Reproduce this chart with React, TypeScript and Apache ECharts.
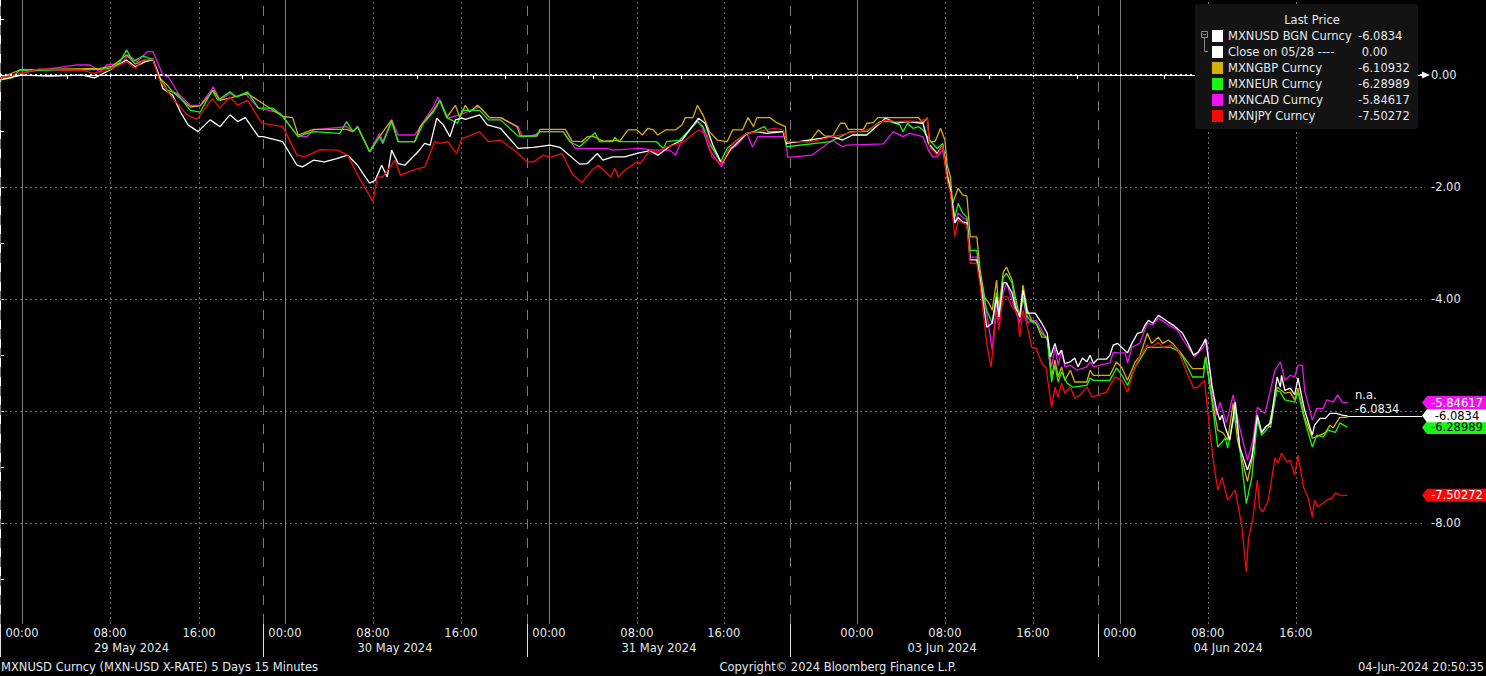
import { useEffect, useRef } from 'react';
import * as echarts from 'echarts';

// ---------- axis ranges (hours on a compressed trading-time scale) ----------
const X_MAX = 129.27;
const Y_MIN = -9.8;
const Y_MAX = 1.34;

// ---------- legend / names ----------
const seriesNames = ['MXNUSD BGN Curncy', 'Close on 05/28 ----', 'MXNGBP Curncy', 'MXNEUR Curncy', 'MXNCAD Curncy', 'MXNJPY Curncy'];
const lastValueText = ['-6.0834', ' 0.00', '-6.10932', '-6.28989', '-5.84617', '-7.50272'];
const seriesColors = ['#ffffff', '#ffffff', '#d4b00c', '#16f516', '#f010f0', '#f50a0a'];

// ---------- x axis ticks & labels ----------
const timeLabelPos = [2.0, 10.0, 18.1, 25.9, 33.9, 41.9, 49.9, 57.9, 65.8, 77.9, 85.9, 93.9, 101.8, 109.8, 117.8];
const timeLabelText = ['00:00', '08:00', '16:00', '00:00', '08:00', '16:00', '00:00', '08:00', '16:00', '00:00', '08:00', '16:00', '00:00', '08:00', '16:00'];
const dateLabelPos = [8.55, 32.5, 56.5, 82.5, 108.5];
const dateLabelText = ['29 May 2024', '30 May 2024', '31 May 2024', '03 Jun 2024', '04 Jun 2024'];
const daySeparators = [0, 23.9, 47.9, 71.8, 99.8];
const midnightLines = [2.0, 25.9, 49.9, 77.9, 101.8];
const hourLines = [10.0, 18.1, 33.9, 41.9, 57.9, 65.8, 85.9, 93.9, 109.8, 117.8];
const timeTicks = [2.0, 6.1, 10.0, 14.1, 18.1, 22.0, 25.9, 29.9, 33.9, 37.9, 41.9, 45.9, 49.9, 53.9, 57.9, 61.9, 65.8, 69.8, 73.8, 77.9, 81.9, 85.9, 89.9, 93.9, 97.9, 101.8, 105.8, 109.8, 113.8, 117.8, 121.8];

// ---------- y axis ----------
const yLabelValues = [0, -2, -4, -8];
const yTickValues = [1, 0, -1, -2, -3, -4, -5, -6, -7, -8, -9];
const yGridValues = [-2, -4, -6, -8];

// ---------- series data: [hour, % change] ----------
const mxnusd: [number, number][] = [
  [0, -0.08], [2.0, 0.0], [4.5, -0.02], [7.5, 0.0], [8.6, -0.05], [10.0, 0.09], [11.5, 0.27], [12.3, 0.15], [13.2, 0.24], [13.9, 0.27], [14.4, 0.03], [14.8, -0.24], [15.7, -0.36], [16.4, -0.66], [17.1, -0.89], [18.0, -1.01], [19.1, -0.80], [20.0, -0.92], [20.9, -0.71], [21.6, -0.83], [22.3, -0.76], [23.5, -1.10], [23.9, -1.10], [25.7, -1.19], [27.0, -1.61], [27.5, -1.64], [28.5, -1.52], [29.5, -1.55], [30.6, -1.49], [31.6, -1.43], [32.5, -1.61], [33.0, -1.76], [33.6, -1.93], [34.1, -1.88], [34.7, -1.61], [35.2, -1.82], [35.6, -1.34], [36.2, -1.58], [36.8, -1.61], [38.0, -1.37], [38.6, -1.22], [39.1, -1.25], [39.7, -0.77], [40.3, -0.89], [40.9, -1.10], [41.4, -0.80], [42.0, -0.77], [42.3, -0.79], [43.6, -0.71], [44.3, -0.89], [45.5, -0.95],
  [47.1, -1.31], [48.5, -1.29], [50.0, -1.25], [50.9, -1.29], [52.7, -1.59], [53.4, -1.58], [54.3, -1.40], [54.8, -1.52], [55.7, -1.46], [56.8, -1.46], [57.9, -1.40], [59.1, -1.35], [59.8, -1.43], [60.9, -1.27], [62.0, -1.16], [63.5, -0.77], [64.1, -0.86], [64.8, -1.25], [65.6, -1.58], [66.4, -1.33], [67.9, -1.04], [68.8, -1.01], [69.7, -1.04], [71.2, -1.01], [71.5, -1.22], [75.7, -1.10], [76.6, -1.16], [77.5, -1.07], [78.8, -1.07], [80.5, -0.77], [81.5, -0.86], [82.5, -0.83], [83.9, -0.86], [84.4, -1.22], [85.2, -1.40], [85.7, -1.25],
  [86.1, -1.79], [86.4, -2.05], [86.8, -2.64], [87.1, -2.54], [87.5, -2.62], [87.9, -2.64], [88.2, -3.30], [88.8, -3.30], [89.1, -3.66], [89.7, -4.50], [90.2, -4.43], [90.6, -3.96], [90.8, -4.32], [91.2, -3.71], [91.5, -3.71], [92.0, -3.89], [92.3, -4.14], [92.7, -4.32], [93.0, -3.84], [93.4, -4.25], [94.1, -4.25], [94.7, -4.43], [95.2, -4.61], [95.5, -5.03], [95.9, -4.79], [96.2, -5.0], [96.5, -4.91], [96.8, -5.15], [97.3, -5.12], [97.7, -5.05], [98.0, -5.21], [98.4, -5.05], [98.8, -5.12], [99.1, -5.0], [99.4, -5.15], [99.8, -5.07], [100.6, -5.07], [100.9, -5.0], [101.2, -4.82], [101.6, -4.79], [102.0, -4.87], [102.5, -4.96], [102.9, -4.79], [103.4, -4.61], [103.8, -4.59], [104.1, -4.46], [104.4, -4.38], [104.8, -4.43], [105.3, -4.29], [105.7, -4.34], [106.2, -4.41], [106.6, -4.46], [107.0, -4.52], [107.5, -4.61], [108.0, -4.79], [108.5, -5.0], [108.9, -4.95], [109.4, -4.79], [109.6, -4.71],
  [110.2, -5.57], [110.6, -5.98], [110.9, -6.16], [111.1, -6.07], [111.4, -6.30], [111.8, -6.52], [112.3, -5.84], [112.7, -6.64], [113.4, -7.05], [113.8, -6.82], [114.3, -6.07], [114.7, -6.38], [115.0, -6.29], [115.5, -6.21], [116.1, -5.39], [116.4, -5.57], [116.5, -5.36], [116.8, -5.63], [117.3, -5.59], [117.7, -5.71], [118.0, -5.41], [118.4, -5.80], [118.6, -5.98], [119.3, -6.43], [119.5, -6.25], [120.0, -6.13], [120.5, -6.13], [120.9, -6.04], [121.5, -6.04], [122.0, -6.07], [122.5, -6.0834],
];

const closeLine: [number, number][] = [[0, 0], [X_MAX, 0]];

const mxngbp: [number, number][] = [
  [0, -0.05], [1.8, 0.09], [9.1, 0.12], [10.2, 0.16], [11.5, 0.36], [12.3, 0.20], [13.2, 0.27], [13.9, 0.29], [14.5, -0.05], [15.2, -0.18], [15.7, -0.30], [17.3, -0.57], [18.2, -0.55], [19.4, -0.27], [20.0, -0.45], [22.5, -0.33], [25.7, -0.74], [26.6, -0.76], [27.1, -1.07], [28.5, -0.97], [31.5, -0.97], [32.1, -1.01], [32.5, -0.92], [33.6, -1.37], [34.5, -1.10], [35.6, -0.80], [36.2, -1.19], [37.7, -1.19], [38.2, -0.92], [39.4, -0.63], [40.0, -0.45], [40.6, -0.76], [41.4, -0.54], [41.8, -0.76], [42.3, -0.54], [42.7, -0.66], [43.4, -0.54], [43.9, -0.63], [44.5, -0.76], [45.5, -0.76],
  [47.0, -0.92], [47.3, -1.09], [48.8, -1.09], [49.1, -0.97], [51.4, -0.97], [52.0, -1.18], [52.9, -1.19], [53.4, -1.10], [53.9, -1.09], [54.8, -1.18], [56.4, -1.16], [57.1, -0.98], [57.9, -0.98], [58.4, -1.07], [58.9, -0.95], [59.4, -0.98], [59.8, -1.07], [60.5, -0.98], [61.4, -0.98], [62.0, -0.89], [62.3, -0.76], [63.0, -0.76], [63.4, -0.54], [63.9, -0.71], [64.5, -1.01], [65.2, -1.16], [66.1, -1.19], [66.6, -0.98], [67.5, -0.98], [68.0, -0.76], [68.5, -0.92], [68.8, -0.76], [70.0, -0.76], [70.6, -0.85], [71.4, -0.92], [71.5, -1.19], [73.6, -1.19], [74.4, -0.98], [75.0, -1.09], [75.7, -1.09], [76.4, -0.86], [76.8, -0.86], [77.1, -0.97], [78.5, -0.97], [78.8, -0.86], [79.4, -0.85], [79.8, -0.76], [83.5, -0.76], [83.9, -0.86], [84.3, -0.76], [84.5, -1.19], [85.0, -1.19], [85.5, -0.95], [85.9, -1.16],
  [86.1, -1.61], [86.4, -1.82], [86.6, -2.29], [87.1, -2.02], [87.5, -2.14], [87.9, -2.16], [88.2, -2.89], [88.8, -2.89], [89.1, -3.48], [89.5, -3.96], [89.9, -4.07], [90.2, -4.20], [90.6, -3.66], [90.8, -4.20], [91.2, -3.52], [91.5, -3.43], [92.0, -3.66], [92.3, -3.96], [92.7, -4.32], [93.0, -3.75], [93.4, -4.20], [93.8, -4.38], [94.2, -4.43], [94.7, -4.68], [95.2, -4.68], [95.6, -5.39], [95.9, -5.09], [96.2, -5.39], [96.5, -5.21], [96.8, -5.45], [97.3, -5.27], [97.7, -5.48], [98.8, -5.48], [99.1, -5.27], [99.4, -5.36], [100.9, -5.36], [101.5, -5.12], [102.0, -5.23], [102.5, -5.45], [103.2, -5.12], [103.6, -5.03], [104.3, -4.61], [104.7, -4.79], [105.3, -4.68], [105.7, -4.79], [106.2, -4.73], [106.6, -4.79], [107.3, -4.95], [108.4, -5.24], [109.4, -5.24], [109.6, -5.03],
  [110.2, -5.80], [110.7, -6.34], [111.2, -6.39], [111.6, -6.52], [112.1, -5.86], [112.5, -6.52], [113.4, -7.26], [113.8, -6.88], [114.3, -6.13], [114.7, -6.39], [115.2, -6.25], [115.5, -6.29], [116.1, -5.57], [116.8, -5.68], [117.3, -5.66], [117.7, -5.80], [118.0, -5.59], [118.6, -6.11], [119.3, -6.48], [119.7, -6.46], [120.5, -6.38], [120.9, -6.25], [121.2, -6.30], [121.5, -6.20], [121.8, -6.11], [122.5, -6.10932],
];

const mxneur: [number, number][] = [
  [0, -0.09], [1.1, -0.05], [1.8, 0.09], [5.5, 0.09], [9.1, 0.10], [10.2, 0.13], [10.9, 0.23], [11.5, 0.45], [12.1, 0.24], [13.0, 0.34], [13.9, 0.28], [14.5, -0.03], [15.2, -0.27], [16.1, -0.33], [17.3, -0.63], [18.2, -0.66], [19.3, -0.27], [19.8, -0.45], [20.9, -0.30], [21.5, -0.39], [22.5, -0.30], [23.5, -0.59], [24.8, -0.59], [25.7, -0.74], [27.1, -1.10], [27.9, -1.04], [28.6, -1.01], [30.9, -1.04], [31.5, -0.83], [32.1, -1.01], [32.5, -0.92], [33.6, -1.37], [34.5, -1.10], [34.8, -1.22], [35.6, -0.83], [36.2, -1.19], [37.7, -1.19], [38.5, -0.86], [39.4, -0.66], [40.0, -0.45], [40.7, -0.77], [41.6, -0.86], [42.0, -0.63], [43.6, -0.63], [44.4, -0.80], [45.5, -0.80],
  [47.1, -1.09], [48.6, -1.09], [49.1, -1.01], [51.2, -1.01], [51.8, -1.19], [52.7, -1.28], [54.1, -1.03], [54.5, -1.19], [55.7, -1.19], [55.9, -1.11], [56.2, -1.19], [59.7, -1.19], [60.3, -1.31], [60.6, -1.19], [61.8, -1.16], [63.4, -0.83], [63.9, -0.92], [64.5, -1.22], [65.5, -1.55], [66.1, -1.31], [67.0, -1.16], [67.9, -1.04], [68.5, -1.01], [69.5, -0.92], [69.8, -1.01], [71.2, -1.01], [71.5, -1.28], [75.5, -1.19], [77.3, -1.01], [78.8, -1.01], [80.0, -0.83], [80.9, -0.83], [81.8, -0.89], [82.1, -1.01], [82.5, -0.86], [83.0, -0.95], [83.5, -0.92], [83.9, -0.98], [84.5, -1.16], [85.2, -1.31], [85.7, -1.22],
  [86.1, -1.75], [86.4, -2.0], [86.8, -2.54], [87.1, -2.29], [87.5, -2.46], [87.9, -2.54], [88.2, -3.13], [88.8, -3.13], [89.1, -3.61], [89.7, -4.20], [90.2, -4.43], [90.6, -3.88], [90.8, -4.25], [91.2, -3.61], [91.5, -3.54], [92.0, -3.71], [92.3, -4.07], [92.7, -4.32], [93.0, -3.96], [93.4, -4.32], [93.8, -4.41], [94.2, -4.43], [94.7, -4.61], [95.2, -4.70], [95.6, -5.48], [95.9, -5.18], [96.2, -5.48], [96.5, -5.30], [97.0, -5.50], [97.5, -5.57], [98.8, -5.54], [99.1, -5.41], [99.4, -5.45], [100.9, -5.45], [101.5, -5.23], [102.0, -5.36], [102.5, -5.54], [103.2, -5.21], [103.6, -5.09], [104.3, -4.86], [106.4, -4.86], [107.0, -4.91], [107.5, -5.03], [108.4, -5.39], [109.4, -5.39], [109.6, -5.03],
  [110.2, -5.86], [110.7, -6.64], [111.4, -6.48], [111.6, -6.66], [112.3, -5.98], [112.7, -6.64], [113.3, -7.65], [113.8, -7.18], [114.3, -6.16], [114.7, -6.43], [115.3, -6.29], [116.1, -5.63], [116.4, -5.66], [116.8, -5.80], [117.7, -5.84], [118.0, -5.66], [118.6, -6.16], [119.3, -6.64], [119.7, -6.43], [120.3, -6.46], [120.7, -6.34], [121.4, -6.38], [121.8, -6.21], [122.5, -6.28989],
];

const mxncad: [number, number][] = [
  [0, -0.06], [2.7, 0.06], [7.0, 0.18], [8.2, 0.18], [9.1, 0.06], [9.7, 0.18], [11.1, 0.21], [11.6, 0.36], [12.5, 0.24], [13.4, 0.42], [13.9, 0.42], [14.8, 0.0], [15.3, -0.03], [16.2, -0.33], [17.3, -0.54], [18.2, -0.54], [19.4, -0.21], [20.0, -0.45], [20.9, -0.33], [21.5, -0.39], [22.3, -0.33], [23.5, -0.59], [25.5, -0.68], [27.1, -1.10], [27.9, -1.10], [28.5, -0.98], [31.5, -0.92], [32.1, -1.01], [32.5, -0.92], [33.6, -1.37], [34.5, -1.04], [34.8, -1.19], [35.6, -0.80], [36.2, -1.07], [37.7, -1.07], [38.5, -0.83], [39.4, -0.57], [39.8, -0.39], [40.7, -0.77], [41.8, -0.71], [43.6, -0.57], [44.5, -0.76], [45.5, -0.76],
  [47.1, -0.92], [47.5, -1.11], [48.6, -1.07], [49.1, -1.01], [51.2, -1.01], [52.3, -1.31], [55.2, -1.31], [55.7, -1.34], [58.2, -1.31], [59.4, -1.34], [60.9, -1.34], [61.4, -1.43], [62.0, -1.16], [63.4, -0.80], [63.8, -0.92], [64.5, -1.34], [65.6, -1.64], [66.2, -1.34], [67.0, -1.25], [67.9, -1.04], [68.4, -1.29], [68.9, -1.10], [71.4, -1.10], [71.6, -1.47], [73.8, -1.43], [75.7, -1.16], [76.1, -1.22], [76.6, -1.28], [77.0, -1.25], [80.3, -1.23], [81.2, -1.01], [82.1, -1.10], [82.7, -1.04], [83.9, -1.10], [84.4, -1.34], [84.8, -1.46], [85.2, -1.46], [85.7, -1.34],
  [86.1, -1.82], [86.4, -2.05], [86.8, -2.64], [87.1, -2.46], [87.5, -2.54], [87.9, -2.59], [88.2, -3.25], [88.8, -3.25], [89.1, -3.66], [89.7, -4.25], [90.2, -4.91], [90.6, -4.02], [90.8, -4.38], [91.2, -3.88], [91.5, -3.71], [92.0, -4.02], [92.3, -4.20], [92.7, -4.43], [93.0, -3.96], [93.4, -4.43], [93.8, -4.38], [94.2, -4.38], [94.7, -4.55], [95.2, -4.73], [95.6, -5.21], [95.9, -4.86], [96.2, -5.18], [96.5, -4.91], [96.8, -5.21], [97.3, -5.18], [97.9, -5.27], [98.8, -5.21], [99.1, -5.12], [99.4, -5.21], [100.0, -5.18], [100.9, -5.14], [101.2, -4.95], [101.6, -4.96], [102.3, -4.96], [102.5, -5.14], [102.9, -4.86], [103.6, -4.79], [104.3, -4.43], [104.8, -4.46], [105.3, -4.34], [106.2, -4.46], [107.0, -4.55], [107.7, -4.77], [108.6, -5.03], [109.4, -4.86], [109.7, -4.73],
  [110.2, -5.68], [110.6, -6.07], [110.9, -5.84], [111.5, -6.21], [112.1, -5.71], [112.6, -6.21], [113.4, -6.88], [113.9, -6.52], [114.3, -5.93], [115.0, -6.04], [115.9, -5.27], [116.4, -5.12], [116.8, -5.45], [117.3, -5.36], [117.7, -5.39], [118.0, -5.18], [118.4, -5.18], [118.6, -5.63], [119.3, -6.16], [119.7, -5.95], [120.3, -5.95], [120.6, -5.80], [121.2, -5.84], [121.6, -5.71], [122.0, -5.84], [122.5, -5.84617],
];

const mxnjpy: [number, number][] = [
  [0, -0.06], [1.8, 0.03], [3.6, 0.11], [5.5, 0.09], [7.5, 0.09], [8.5, 0.03], [10.0, 0.10], [11.5, 0.24], [12.3, 0.12], [13.0, 0.27], [13.9, 0.28], [14.5, -0.09], [15.6, -0.39], [17.0, -0.71], [17.9, -0.79], [19.3, -0.42], [20.0, -0.59], [20.9, -0.39], [21.6, -0.54], [22.5, -0.45], [23.8, -0.86], [25.7, -0.92], [27.0, -1.43], [27.7, -1.46], [29.1, -1.33], [30.7, -1.34], [31.6, -1.43], [32.7, -1.85], [33.9, -2.26], [34.3, -1.82], [34.8, -1.82], [35.9, -1.52], [36.4, -1.79], [37.5, -1.70], [38.6, -1.64], [39.1, -1.40], [39.5, -1.19], [40.0, -1.22], [40.7, -1.19], [41.5, -1.40], [42.0, -1.13], [42.5, -1.10], [43.6, -1.01], [44.4, -1.19], [45.5, -1.16],
  [47.1, -1.40], [47.9, -1.55], [48.5, -1.55], [49.4, -1.43], [50.0, -1.47], [51.1, -1.40], [52.0, -1.76], [52.9, -1.92], [53.8, -1.70], [54.4, -1.61], [55.5, -1.82], [55.9, -1.67], [56.2, -1.82], [56.8, -1.70], [57.9, -1.55], [58.2, -1.58], [59.1, -1.34], [59.7, -1.39], [60.6, -1.28], [62.0, -1.21], [63.5, -0.98], [64.3, -1.07], [64.7, -1.46], [65.6, -1.58], [66.6, -1.22], [67.9, -1.04], [68.8, -1.01], [70.3, -0.95], [71.2, -0.98], [71.5, -1.19], [73.8, -1.19], [75.7, -1.10], [77.0, -1.04], [78.8, -0.98], [80.5, -0.80], [81.4, -0.83], [82.5, -0.82], [83.6, -0.83], [84.3, -0.77], [84.5, -1.28], [85.2, -1.43], [85.7, -1.25],
  [86.1, -1.88], [86.4, -2.11], [86.8, -2.89], [87.1, -2.59], [87.5, -2.64], [87.9, -2.68], [88.2, -3.36], [88.8, -3.36], [89.1, -3.75], [89.7, -4.79], [90.1, -5.21], [90.6, -4.20], [90.8, -4.55], [91.2, -3.96], [91.6, -3.96], [92.0, -4.14], [92.5, -4.25], [92.7, -4.68], [93.0, -4.20], [93.4, -4.50], [93.8, -4.86], [94.2, -4.88], [94.7, -5.14], [95.1, -5.23], [95.5, -5.80], [95.6, -5.93], [95.9, -5.57], [96.2, -5.75], [96.5, -5.50], [96.8, -5.68], [97.3, -5.57], [97.7, -5.77], [98.2, -5.71], [98.8, -5.57], [99.3, -5.75], [99.8, -5.71], [100.6, -5.66], [100.9, -5.54], [101.4, -5.39], [102.0, -5.45], [102.5, -5.66], [103.0, -5.32], [103.6, -5.03], [104.3, -4.82], [104.7, -4.86], [105.3, -4.77], [105.7, -4.86], [106.5, -4.82], [107.1, -4.91], [107.5, -5.12], [108.0, -5.36], [108.5, -5.59], [108.9, -5.57], [109.5, -5.45],
  [110.0, -6.39], [110.3, -6.88], [110.7, -7.41], [111.1, -7.18], [111.6, -7.59], [112.3, -7.41], [112.9, -8.07], [113.3, -8.87], [113.5, -8.27], [113.9, -7.91], [114.3, -7.23], [114.5, -7.73], [114.8, -7.80], [115.3, -7.59], [115.9, -6.84], [116.2, -6.93], [116.5, -6.75], [117.0, -6.91], [117.3, -6.88], [117.7, -7.14], [118.0, -6.79], [118.5, -7.36], [118.9, -7.54], [119.3, -7.89], [119.5, -7.59], [119.8, -7.71], [120.3, -7.64], [120.6, -7.59], [121.1, -7.55], [121.4, -7.46], [121.8, -7.50], [122.5, -7.50272],
];

const FONT = 'DejaVu Sans';
const FS = 11.5;
const TXT = '#e2e8f0';
const TAG_PATH = 'path://M0,7 L5,0 L64,0 L64,14 L5,14 Z';

function lastOf(d: [number, number][]) {
  return d[d.length - 1];
}

function tag(d: [number, number][], fill: string, text: string, textColor: string) {
  const last = lastOf(d);
  return {
    coord: [X_MAX, last[1]],
    symbol: TAG_PATH,
    symbolSize: [64, 13],
    symbolKeepAspect: false,
    symbolOffset: [32, 0],
    itemStyle: { color: fill },
    label: {
      show: true,
      position: 'inside',
      formatter: text,
      color: textColor,
      fontFamily: FONT,
      fontSize: FS,
      offset: [3, 0],
    },
  };
}

function nearestLabel(pos: number[], texts: string[], v: number) {
  let best = 0;
  for (let i = 1; i < pos.length; i++) {
    if (Math.abs(pos[i] - v) < Math.abs(pos[best] - v)) best = i;
  }
  return texts[best];
}

export default function App() {
  const ref = useRef<HTMLDivElement>(null);

  useEffect(() => {
    if (!ref.current) return;
    const chart = echarts.init(ref.current, null, { renderer: 'svg' });

    const gridLineData: any[] = [
      ...yGridValues.map((v) => ({ yAxis: v, lineStyle: { color: '#6e6e6e', type: [2, 3], width: 1 } })),
      ...midnightLines.map((x) => ({ xAxis: x, lineStyle: { color: '#7a7a7a', type: 'solid', width: 1 } })),
      ...hourLines.map((x) => ({ xAxis: x, lineStyle: { color: '#6e6e6e', type: [2, 3], width: 1 } })),
      ...daySeparators.map((x) => ({ xAxis: x, lineStyle: { color: '#7a7a7a', type: [10, 9], width: 1 } })),
    ];

    const lineSeries = (name: string, data: [number, number][], color: string, z: number, extra: any = {}) => ({
      type: 'line',
      name,
      data,
      xAxisIndex: 0,
      yAxisIndex: 0,
      showSymbol: false,
      symbol: 'none',
      clip: false,
      z,
      lineStyle: { color, width: 1.3 },
      itemStyle: { color },
      silent: true,
      ...extra,
    });

    const legendRows: any[] = [];
    seriesNames.forEach((n, i) => {
      const y = 36 + i * 16;
      legendRows.push({ type: 'rect', shape: { x: 1212, y: y - 6, width: 11, height: 12 }, style: { fill: seriesColors[i] }, z: 101 });
      legendRows.push({ type: 'text', x: 1228, y, style: { text: n, fill: TXT, font: `${FS}px "${FONT}"`, align: 'left', verticalAlign: 'middle' }, z: 101 });
      legendRows.push({ type: 'text', x: 1358, y, style: { text: lastValueText[i], fill: TXT, font: `${FS}px "${FONT}"`, align: 'left', verticalAlign: 'middle' }, z: 101 });
    });

    const usdLast = lastOf(mxnusd);

    chart.setOption({
      animation: false,
      backgroundColor: '#000000',
      grid: [
        { left: 0, right: 64, top: 0, bottom: 52, containLabel: false },
        { left: 0, right: 64, top: 0, bottom: 52, containLabel: false },
      ],
      xAxis: [
        {
          type: 'value', gridIndex: 0, min: 0, max: X_MAX, position: 'bottom',
          axisLine: { show: true, lineStyle: { color: '#ffffff', width: 1 } },
          axisTick: { show: true, customValues: timeTicks, length: 4, lineStyle: { color: '#ffffff', width: 1 } },
          axisLabel: {
            show: true, customValues: timeLabelPos, margin: 3, color: TXT, fontFamily: FONT, fontSize: FS,
            formatter: (v: number) => nearestLabel(timeLabelPos, timeLabelText, v),
          },
          splitLine: { show: false },
        },
        {
          type: 'value', gridIndex: 1, min: 0, max: X_MAX, position: 'bottom',
          axisLine: { show: false },
          axisTick: { show: true, customValues: daySeparators, length: 33, lineStyle: { color: '#e0e0e0', width: 1 } },
          axisLabel: {
            show: true, customValues: dateLabelPos, margin: 18, align: 'left', color: TXT, fontFamily: FONT, fontSize: FS,
            formatter: (v: number) => nearestLabel(dateLabelPos, dateLabelText, v),
          },
          splitLine: { show: false },
        },
      ],
      yAxis: [
        {
          type: 'value', gridIndex: 0, position: 'right', min: Y_MIN, max: Y_MAX,
          axisLine: { show: true, lineStyle: { color: '#ffffff', width: 1 } },
          axisTick: { show: true, customValues: yTickValues, length: 4, lineStyle: { color: '#ffffff' } },
          axisLabel: {
            show: true, customValues: yLabelValues, margin: 9, color: TXT, fontFamily: FONT, fontSize: FS,
            formatter: (v: number) => v.toFixed(2),
          },
          splitLine: { show: false },
        },
        { type: 'value', gridIndex: 1, min: 0, max: 1, show: false },
      ],
      series: [
        {
          type: 'line', name: 'gridlines', data: [], xAxisIndex: 0, yAxisIndex: 0, z: 1, silent: true,
          markLine: { silent: true, symbol: ['none', 'none'], z: 1, label: { show: false }, animation: false, data: gridLineData },
        },
        lineSeries(seriesNames[4], mxncad, seriesColors[4], 2, {
          markPoint: { z: 12, silent: true, animation: false, data: [tag(mxncad, seriesColors[4], lastValueText[4], '#ffffff')] },
        }),
        lineSeries(seriesNames[2], mxngbp, seriesColors[2], 2),
        lineSeries(seriesNames[3], mxneur, seriesColors[3], 2, {
          markPoint: { z: 10, silent: true, animation: false, data: [tag(mxneur, seriesColors[3], lastValueText[3], '#000000')] },
        }),
        lineSeries(seriesNames[0], mxnusd, seriesColors[0], 3, {
          markLine: {
            silent: true, symbol: ['none', 'none'], z: 3, label: { show: false }, animation: false,
            data: [[{ coord: [usdLast[0], usdLast[1]] }, { coord: [X_MAX, usdLast[1]] }]],
            lineStyle: { color: '#ffffff', type: 'solid', width: 1 },
          },
          markPoint: {
            z: 11, silent: true, animation: false,
            data: [
              tag(mxnusd, seriesColors[0], lastValueText[0], '#000000'),
              {
                coord: [usdLast[0], usdLast[1]], symbol: 'circle', symbolSize: 1, itemStyle: { color: 'rgba(0,0,0,0)' },
                label: {
                  show: true, position: 'right', distance: 0, offset: [7, -14], formatter: 'n.a.\n-6.0834',
                  color: '#f2f2f2', fontFamily: FONT, fontSize: FS, lineHeight: 14, align: 'left',
                },
              },
            ],
          },
        }),
        lineSeries(seriesNames[5], mxnjpy, seriesColors[5], 3, {
          markPoint: { z: 12, silent: true, animation: false, data: [tag(mxnjpy, seriesColors[5], lastValueText[5], '#ffffff')] },
        }),
        lineSeries(seriesNames[1], closeLine, '#ffffff', 4, {
          lineStyle: { color: '#ffffff', width: 2, type: [2, 3] },
          markPoint: {
            z: 12, silent: true, animation: false,
            data: [{
              coord: [X_MAX, 0], symbol: 'path://M0,0 L8,3.5 L0,7 Z', symbolSize: [8, 7], symbolKeepAspect: false,
              symbolOffset: [4, 0], itemStyle: { color: '#ffffff' }, label: { show: false },
            }],
          },
        }),
      ],
      graphic: [
        { type: 'rect', shape: { x: 1195, y: 4, width: 223, height: 125, r: 3 }, style: { fill: '#131313' }, z: 100 },
        { type: 'text', x: 1312, y: 20, style: { text: 'Last Price', fill: TXT, font: `${FS}px "${FONT}"`, align: 'center', verticalAlign: 'middle' }, z: 101 },
        { type: 'rect', shape: { x: 1201.5, y: 31.5, width: 6, height: 6 }, style: { fill: 'none', stroke: '#8a8a8a', lineWidth: 1 }, z: 101 },
        { type: 'line', shape: { x1: 1203, y1: 34.5, x2: 1206, y2: 34.5 }, style: { stroke: '#8a8a8a', lineWidth: 1 }, z: 101 },
        { type: 'polyline', shape: { points: [[1204.5, 37.5], [1204.5, 51.5], [1208, 51.5]] }, style: { stroke: '#8a8a8a', fill: 'none', lineWidth: 1 }, z: 101 },
        ...legendRows,
        { type: 'text', x: 1, y: 667, style: { text: 'MXNUSD Curncy (MXN-USD X-RATE) 5 Days 15 Minutes', fill: TXT, font: `${FS}px "${FONT}"`, align: 'left', verticalAlign: 'middle' }, z: 101 },
        { type: 'text', x: 838, y: 667, style: { text: 'Copyright\u00a9 2024 Bloomberg Finance L.P.', fill: TXT, font: `${FS}px "${FONT}"`, align: 'center', verticalAlign: 'middle' }, z: 101 },
        { type: 'text', x: 1484, y: 667, style: { text: '04-Jun-2024 20:50:35', fill: TXT, font: `${FS}px "${FONT}"`, align: 'right', verticalAlign: 'middle' }, z: 101 },
      ],
    });

    return () => chart.dispose();
  }, []);

  return (
    <div
      ref={ref}
      style={{ position: 'fixed', left: 0, top: 0, width: 1486, height: 676, background: '#000000' }}
    />
  );
}
